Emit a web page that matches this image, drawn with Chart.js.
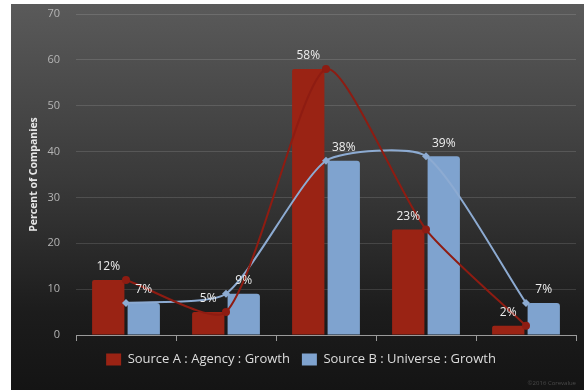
<!DOCTYPE html>
<html>
<head>
<meta charset="utf-8">
<script src="https://cdn.jsdelivr.net/npm/chart.js@4/dist/chart.umd.min.js"></script>
<style>
  html, body { margin: 0; padding: 0; background: #fff; }
  #panel {
    position: absolute; left: 11px; top: 4px; width: 573px; height: 386px;
    background: linear-gradient(to bottom, #5a5a5a 0%, #3a3a3a 45%, #1c1c1c 80%, #141414 100%);
  }
  #wrap { position: absolute; left: 0; top: 0; width: 584px; height: 390px; }
  #credit {
    position: absolute; right: 8px; bottom: 3px;
    font: 6px "Open Sans", sans-serif; color: #4a4a4a;
  }
</style>
</head>
<body>
<div id="panel"></div>
<div id="wrap"><canvas id="growthChart"></canvas></div>
<div id="credit">©2016 Corevalue</div>
<script>
const categories = ['Band 1', 'Band 2', 'Band 3', 'Band 4', 'Band 5'];
const sourceA = [12, 5, 58, 23, 2];
const sourceB = [7, 9, 38, 39, 7];
const seriesNames = ['Source A : Agency : Growth', 'Source B : Universe : Growth'];
const yTicks = [0, 10, 20, 30, 40, 50, 60, 70];

const RED = '#9a2314';
const RED_LINE = '#8e1c12';
const BLUE = '#7fa3cf';
const BLUE_LINE = '#8dabd2';
const FONT = '"Open Sans", "DejaVu Sans", sans-serif';

// percent labels above each bar
const barLabels = {
    id: 'barLabels',
    afterDatasetsDraw(chart) {
        const ctx = chart.ctx;
        ctx.save();
        ctx.font = '12px ' + FONT;
        ctx.fillStyle = '#eeeeee';
        ctx.textAlign = 'center';
        ctx.textBaseline = 'bottom';
        chart.data.datasets.forEach((ds, i) => {
            if (ds.type !== 'bar') return;
            chart.getDatasetMeta(i).data.forEach((bar, j) => {
                ctx.fillText(ds.data[j] + '%', bar.x, bar.y - 7);
            });
        });
        ctx.restore();
    }
};

function initChart() {
    const ctx = document.getElementById('growthChart');
    return new Chart(ctx, {
        data: {
            labels: categories,
            datasets: [{
                type: 'bar',
                label: seriesNames[0],
                data: sourceA,
                backgroundColor: RED,
                borderRadius: { topLeft: 2, topRight: 2 },
                borderSkipped: 'bottom',
                categoryPercentage: 0.71,
                barPercentage: 0.91,
                order: 2
            }, {
                type: 'bar',
                label: seriesNames[1],
                data: sourceB,
                backgroundColor: BLUE,
                borderRadius: { topLeft: 3, topRight: 3 },
                borderSkipped: 'bottom',
                categoryPercentage: 0.71,
                barPercentage: 0.91,
                order: 2
            }, {
                type: 'line',
                label: 'A trend',
                data: sourceA,
                borderColor: RED_LINE,
                backgroundColor: RED_LINE,
                borderWidth: 2,
                tension: 0.22,
                pointStyle: 'circle',
                pointRadius: 4,
                pointBorderWidth: 0,
                order: 0
            }, {
                type: 'line',
                label: 'B trend',
                data: sourceB,
                borderColor: BLUE_LINE,
                backgroundColor: BLUE_LINE,
                borderWidth: 2,
                tension: 0.2,
                pointStyle: 'rectRot',
                pointRadius: 4,
                pointBorderWidth: 0,
                order: 1
            }]
        },
        options: {
            responsive: true,
            maintainAspectRatio: false,
            animation: false,
            layout: { autoPadding: false, padding: { left: 26, right: 8, top: 14, bottom: 14 } },
            plugins: {
                tooltip: { enabled: false },
                legend: {
                    position: 'bottom',
                    labels: {
                        filter: item => item.datasetIndex < 2,
                        boxWidth: 15,
                        boxHeight: 12,
                        padding: 12,
                        color: '#dddddd',
                        font: { family: FONT, size: 13 }
                    }
                }
            },
            scales: {
                x: {
                    offset: true,
                    ticks: { display: false },
                    grid: {
                        display: true,
                        offset: true,
                        drawOnChartArea: false,
                        drawTicks: true,
                        tickLength: 6,
                        color: '#9a9a9a'
                    },
                    border: { display: true, color: '#9a9a9a', width: 1 },
                    afterFit: s => { s.height = 6; }
                },
                y: {
                    min: 0,
                    max: 70,
                    afterBuildTicks: s => { s.ticks = yTicks.map(v => ({ value: v })); },
                    ticks: {
                        padding: 16,
                        color: '#b4b4b4',
                        font: { family: FONT, size: 11 }
                    },
                    grid: {
                        drawTicks: false,
                        color: 'rgba(255,255,255,0.13)'
                    },
                    border: { display: false },
                    title: {
                        display: true,
                        text: 'Percent of Companies',
                        color: '#e6e6e6',
                        padding: { top: 2, bottom: 0 },
                        font: { family: FONT, size: 10.5, weight: 'bold' }
                    },
                    afterFit: s => {
                        s.width = 50;
                        s.paddingTop = 0;
                        s.paddingBottom = 0;
                    }
                }
            }
        },
        plugins: [barLabels]
    });
}

const growthChart = initChart();
</script>
</body>
</html>
